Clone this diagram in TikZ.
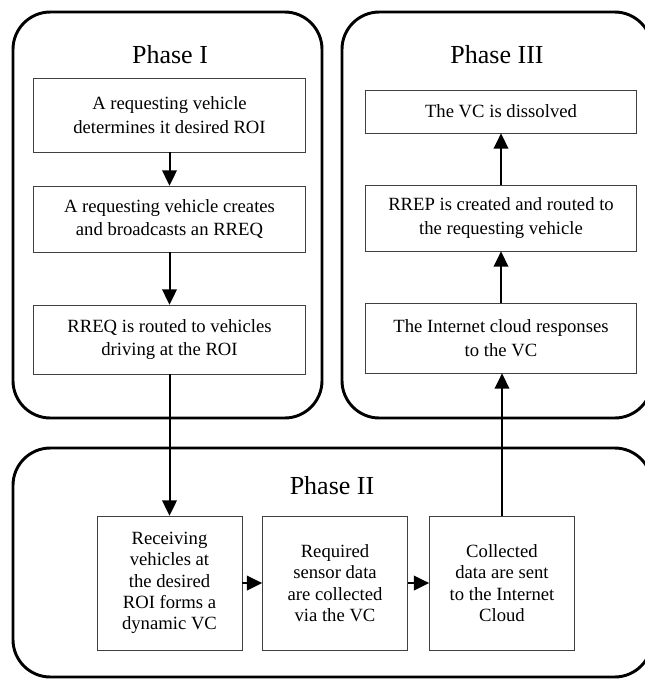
\documentclass[tikz,border=0pt]{standalone}
\usepackage{fontspec}
\setmainfont{Liberation Serif}
\usetikzlibrary{arrows.meta}

\begin{document}
\begin{tikzpicture}[x=0.75pt,y=-0.75pt,
        phase/.style={draw=black, line width=2.2pt, rounded corners=28pt},
        title/.style={anchor=base, font=\fontsize{19.5}{23}\selectfont},
        stepbox/.style={rectangle, draw=black!75, line width=0.6pt, align=center,
        font=\fontsize{14}{17.5}\selectfont, inner sep=2pt},
        wide/.style={stepbox, minimum width=203.5pt, minimum height=#1},
        tall/.style={stepbox, minimum width=108.75pt, minimum height=100.5pt,
        font=\fontsize{14}{16}\selectfont},
        flow/.style={-{Triangle[width=11pt,length=11.5pt]}, line width=1.5pt}]
    \useasboundingbox (0,0) rectangle (644,679);

    % the three phase frames
    \draw [phase] (13,12) rectangle (322,418);
    \draw [phase] (342,12) rectangle (652,418);
    \draw [phase] (13,448) rectangle (652,677);

    \node [title] (t1) at (170,63) {Phase I};
    \node [title] (t3) at (497,63) {Phase III};
    \node [title] (t2) at (332,494) {Phase II};

    % Phase I
    \node [wide=55.5pt] (i1) at (169.5,115) {A requesting vehicle\\determines it desired ROI};
    \node [wide=49.5pt] (i2) at (169.5,219) {A requesting vehicle creates\\and broadcasts an RREQ};
    \node [wide=51.75pt] (i3) at (169.5,339.5) {RREQ is routed to vehicles\\driving at the ROI};

    % Phase II
    \node [tall] (ii1) at (169.5,583) {Receiving\\vehicles at\\the desired\\ROI forms a\\dynamic VC};
    \node [tall] (ii2) at (335,583) {Required\\sensor data\\are collected\\via the VC};
    \node [tall] (ii3) at (502,583) {Collected\\data are sent\\to the Internet\\Cloud};

    % Phase III
    \node [wide=32.25pt] (iii1) at (501,111.5) {The VC is dissolved};
    \node [wide=49.5pt] (iii2) at (501,218) {RREP is created and routed to\\the requesting vehicle};
    \node [wide=52.5pt] (iii3) at (501,338) {The Internet cloud responses\\to the VC};

    \draw [flow] (i1) -- (i2);
    \draw [flow] (i2) -- (i3);
    \draw [flow] (i3) -- (ii1);
    \draw [flow] (ii1) -- (ii2);
    \draw [flow] (ii2) -- (ii3);
    \draw [flow] (ii3.north) -- (ii3.north |- iii3.south);
    \draw [flow] (iii3) -- (iii2);
    \draw [flow] (iii2) -- (iii1);
\end{tikzpicture}
\end{document}
